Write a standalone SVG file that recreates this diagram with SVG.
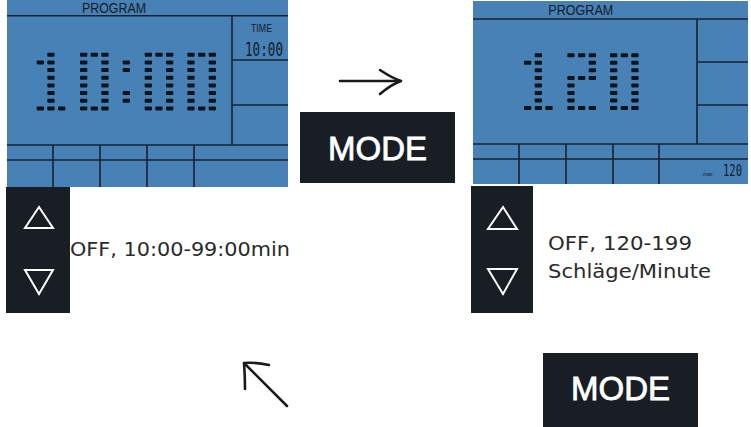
<svg xmlns="http://www.w3.org/2000/svg" xmlns:xlink="http://www.w3.org/1999/xlink" width="751" height="427" viewBox="0 0 751 427">
<style>
.lcd{fill:#4781b6}
.ln{stroke:#18222e;stroke-width:1.6;fill:none}
.lt{font-family:"Liberation Sans",Arial,sans-serif;fill:#141c26}
.btn{fill:#191d24}
.tri{fill:none;stroke:#ffffff;stroke-width:2;stroke-linejoin:miter}
.lbl{font-family:"DejaVu Sans","Liberation Sans",sans-serif;font-size:19px;fill:#2a2a2a}
.mode{font-family:"Liberation Sans",Arial,sans-serif;font-size:33px;fill:#ffffff;stroke:#ffffff;stroke-width:0.8;text-anchor:middle}
.arr{stroke:#1a1a1a;stroke-width:2.6;fill:none;stroke-linecap:round;stroke-linejoin:round}
.seg{fill:#0e141c}
</style>
<defs>
<rect id="s" class="seg" width="7.3" height="4" rx="0.8"/>
</defs>
<rect width="751" height="427" fill="#ffffff"/>

<g id="lcd-left">
<rect class="lcd" x="7" y="0" width="281" height="187"/>
<path class="ln" d="M7,15.7H288 M232,15.7V145 M232,60H288 M232,105H288 M7,145H288 M7,160H288 M53,145V187 M100,145V187 M147,145V187 M194,145V187"/>
<text class="lt" x="82" y="12.7" font-size="14" textLength="64" lengthAdjust="spacingAndGlyphs">PROGRAM</text>
<text class="lt" x="251" y="32.3" font-size="11" textLength="21" lengthAdjust="spacingAndGlyphs">TIME</text>
<text class="lt" x="245" y="56" font-family="DejaVu Sans Mono,monospace" font-size="20" textLength="38" lengthAdjust="spacingAndGlyphs" style="font-family:'DejaVu Sans Mono',monospace">10:00</text>
<g id="digits-left">
<!-- 1 -->
<use xlink:href="#s" x="47.3" y="52.7"/>
<use xlink:href="#s" x="36.7" y="60.4"/><use xlink:href="#s" x="47.3" y="60.4"/>
<use xlink:href="#s" x="47.3" y="68"/><use xlink:href="#s" x="47.3" y="75.7"/><use xlink:href="#s" x="47.3" y="83.4"/><use xlink:href="#s" x="47.3" y="91.1"/><use xlink:href="#s" x="47.3" y="98.7"/>
<use xlink:href="#s" x="36.7" y="106.4"/><use xlink:href="#s" x="47.3" y="106.4"/><use xlink:href="#s" x="58" y="106.4"/>
<!-- 0 -->
<use xlink:href="#s" x="80" y="52.7"/><use xlink:href="#s" x="90.7" y="52.7"/><use xlink:href="#s" x="101.3" y="52.7"/>
<use xlink:href="#s" x="80" y="60.4"/><use xlink:href="#s" x="101.3" y="60.4"/>
<use xlink:href="#s" x="80" y="68"/><use xlink:href="#s" x="101.3" y="68"/>
<use xlink:href="#s" x="80" y="75.7"/><use xlink:href="#s" x="101.3" y="75.7"/>
<use xlink:href="#s" x="80" y="83.4"/><use xlink:href="#s" x="101.3" y="83.4"/>
<use xlink:href="#s" x="80" y="91.1"/><use xlink:href="#s" x="101.3" y="91.1"/>
<use xlink:href="#s" x="80" y="98.7"/><use xlink:href="#s" x="101.3" y="98.7"/>
<use xlink:href="#s" x="80" y="106.4"/><use xlink:href="#s" x="90.7" y="106.4"/><use xlink:href="#s" x="101.3" y="106.4"/>
<!-- colon -->
<use xlink:href="#s" x="122.7" y="60.4"/><use xlink:href="#s" x="122.7" y="68"/>
<use xlink:href="#s" x="122.7" y="91.1"/><use xlink:href="#s" x="122.7" y="98.7"/>
<!-- 0 -->
<use xlink:href="#s" x="144.7" y="52.7"/><use xlink:href="#s" x="155.3" y="52.7"/><use xlink:href="#s" x="166" y="52.7"/>
<use xlink:href="#s" x="144.7" y="60.4"/><use xlink:href="#s" x="166" y="60.4"/>
<use xlink:href="#s" x="144.7" y="68"/><use xlink:href="#s" x="166" y="68"/>
<use xlink:href="#s" x="144.7" y="75.7"/><use xlink:href="#s" x="166" y="75.7"/>
<use xlink:href="#s" x="144.7" y="83.4"/><use xlink:href="#s" x="166" y="83.4"/>
<use xlink:href="#s" x="144.7" y="91.1"/><use xlink:href="#s" x="166" y="91.1"/>
<use xlink:href="#s" x="144.7" y="98.7"/><use xlink:href="#s" x="166" y="98.7"/>
<use xlink:href="#s" x="144.7" y="106.4"/><use xlink:href="#s" x="155.3" y="106.4"/><use xlink:href="#s" x="166" y="106.4"/>
<!-- 0 -->
<use xlink:href="#s" x="187.3" y="52.7"/><use xlink:href="#s" x="198" y="52.7"/><use xlink:href="#s" x="208.7" y="52.7"/>
<use xlink:href="#s" x="187.3" y="60.4"/><use xlink:href="#s" x="208.7" y="60.4"/>
<use xlink:href="#s" x="187.3" y="68"/><use xlink:href="#s" x="208.7" y="68"/>
<use xlink:href="#s" x="187.3" y="75.7"/><use xlink:href="#s" x="208.7" y="75.7"/>
<use xlink:href="#s" x="187.3" y="83.4"/><use xlink:href="#s" x="208.7" y="83.4"/>
<use xlink:href="#s" x="187.3" y="91.1"/><use xlink:href="#s" x="208.7" y="91.1"/>
<use xlink:href="#s" x="187.3" y="98.7"/><use xlink:href="#s" x="208.7" y="98.7"/>
<use xlink:href="#s" x="187.3" y="106.4"/><use xlink:href="#s" x="198" y="106.4"/><use xlink:href="#s" x="208.7" y="106.4"/>
</g>
</g>

<g id="lcd-right">
<rect class="lcd" x="473" y="1" width="275" height="183"/>
<path class="ln" d="M473,19H748 M697,19V144 M697,62H748 M697,105H748 M473,144H748 M473,159H748 M519,144V184 M566,144V184 M613,144V184 M659,144V184"/>
<text class="lt" x="548.3" y="15" font-size="14" textLength="65" lengthAdjust="spacingAndGlyphs">PROGRAM</text>
<text class="lt" x="703" y="176" font-size="5">max</text>
<text class="lt" x="723" y="176" font-size="16" textLength="19" lengthAdjust="spacingAndGlyphs" style="font-family:'DejaVu Sans Mono',monospace">120</text>
<g id="digits-right">
<!-- 1 -->
<use xlink:href="#s" x="534.7" y="53.3"/>
<use xlink:href="#s" x="524" y="60.8"/><use xlink:href="#s" x="534.7" y="60.8"/>
<use xlink:href="#s" x="534.7" y="68.3"/><use xlink:href="#s" x="534.7" y="75.9"/><use xlink:href="#s" x="534.7" y="83.4"/><use xlink:href="#s" x="534.7" y="90.9"/><use xlink:href="#s" x="534.7" y="98.4"/>
<use xlink:href="#s" x="524" y="106"/><use xlink:href="#s" x="534.7" y="106"/><use xlink:href="#s" x="545.3" y="106"/>
<!-- 2 -->
<use xlink:href="#s" x="567.3" y="53.3"/><use xlink:href="#s" x="578" y="53.3"/><use xlink:href="#s" x="588.7" y="53.3"/>
<use xlink:href="#s" x="588.7" y="60.8"/>
<use xlink:href="#s" x="588.7" y="68.3"/>
<use xlink:href="#s" x="567.3" y="75.9"/><use xlink:href="#s" x="578" y="75.9"/><use xlink:href="#s" x="588.7" y="75.9"/>
<use xlink:href="#s" x="567.3" y="83.4"/>
<use xlink:href="#s" x="567.3" y="90.9"/>
<use xlink:href="#s" x="567.3" y="98.4"/>
<use xlink:href="#s" x="567.3" y="106"/><use xlink:href="#s" x="578" y="106"/><use xlink:href="#s" x="588.7" y="106"/>
<!-- 0 -->
<use xlink:href="#s" x="610" y="53.3"/><use xlink:href="#s" x="620.7" y="53.3"/><use xlink:href="#s" x="631.3" y="53.3"/>
<use xlink:href="#s" x="610" y="60.8"/><use xlink:href="#s" x="631.3" y="60.8"/>
<use xlink:href="#s" x="610" y="68.3"/><use xlink:href="#s" x="631.3" y="68.3"/>
<use xlink:href="#s" x="610" y="75.9"/><use xlink:href="#s" x="631.3" y="75.9"/>
<use xlink:href="#s" x="610" y="83.4"/><use xlink:href="#s" x="631.3" y="83.4"/>
<use xlink:href="#s" x="610" y="90.9"/><use xlink:href="#s" x="631.3" y="90.9"/>
<use xlink:href="#s" x="610" y="98.4"/><use xlink:href="#s" x="631.3" y="98.4"/>
<use xlink:href="#s" x="610" y="106"/><use xlink:href="#s" x="620.7" y="106"/><use xlink:href="#s" x="631.3" y="106"/>
</g>
</g>

<g id="keys-left">
<rect class="btn" x="6" y="187" width="64" height="126"/>
<path class="tri" d="M39,207 L25,228 L53,228 Z"/>
<path class="tri" d="M25,270 L53,270 L39,294 Z"/>
</g>
<text id="label-left" class="lbl" x="70" y="256" textLength="220" lengthAdjust="spacingAndGlyphs">OFF, 10:00-99:00min</text>

<g id="keys-right">
<rect class="btn" x="471" y="186" width="62" height="127"/>
<path class="tri" d="M503,207 L488,229 L517,229 Z"/>
<path class="tri" d="M488,269 L517,269 L503,294 Z"/>
</g>
<g id="label-right">
<text class="lbl" x="548" y="250" textLength="144" lengthAdjust="spacingAndGlyphs">OFF, 120-199</text>
<text class="lbl" x="548" y="278" textLength="163" lengthAdjust="spacingAndGlyphs">Schläge/Minute</text>
</g>

<g id="mode-1">
<rect class="btn" x="300" y="112" width="155" height="71"/>
<text class="mode" x="377.5" y="160">MODE</text>
</g>
<g id="mode-2">
<rect class="btn" x="543" y="353" width="155" height="74"/>
<text class="mode" x="620.5" y="400">MODE</text>
</g>

<g id="connectors">
<path class="arr" d="M340,81 H400"/>
<path class="arr" d="M380,70 Q392,78 401,81 Q392,84 380,94"/>
<path class="arr" d="M287,406 L245,364"/>
<path class="arr" d="M269,365 Q254,362 244,363 Q245,375 245,389"/>
</g>
</svg>
